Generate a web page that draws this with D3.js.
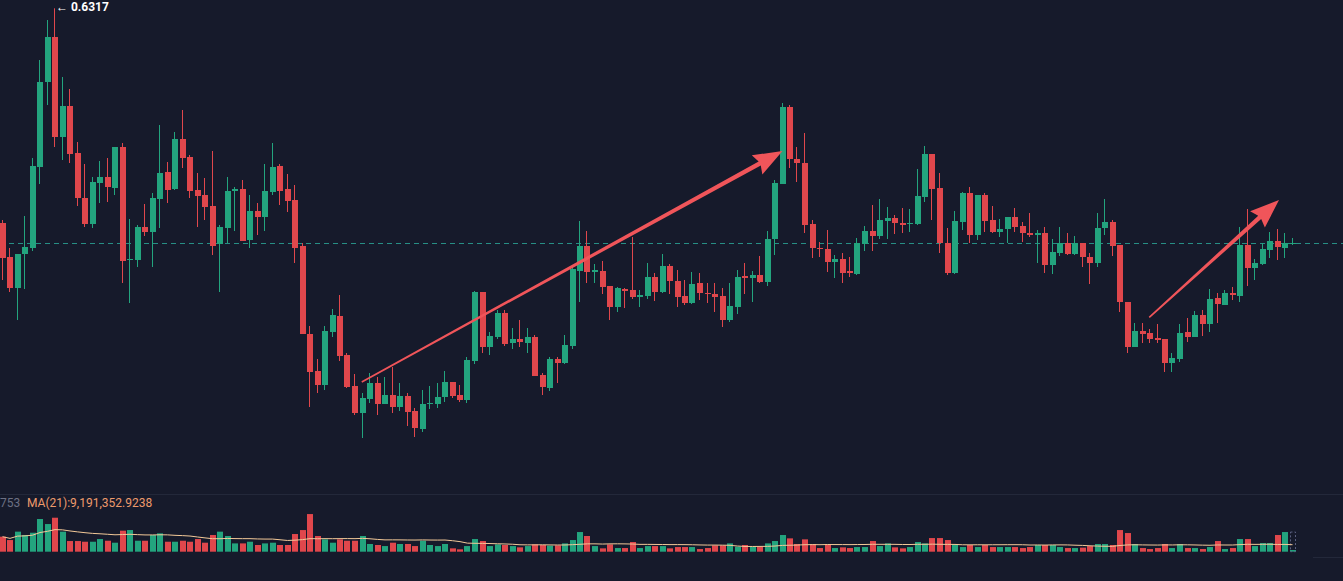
<!DOCTYPE html>
<html lang="en">
<head>
    <meta charset="UTF-8">
    <title>Candlestick chart</title>
    <script src="https://d3js.org/d3.v7.min.js"></script>
    <style>
        html, body {
            margin: 0;
            padding: 0;
            background: #161a2b;
            overflow: hidden;
        }

        svg {
            display: block;
        }

        text {
            font-family: Roboto, "Noto Sans", Arial, sans-serif;
        }
    </style>
</head>
<body>
    <svg id="chart"></svg>
    <script>
        // OHLC per candle (oldest first)
        const open = [
            .417, .383, .352, .386, .392, .473, .558, .603, .503, .534,
            .487, .442, .416, .457, .463, .452, .493, .380, .380, .413,
            .408, .441, .468, .451, .501, .483, .450, .445, .434, .396,
            .412, .449, .451, .400, .429, .423, .448, .474, .451, .440,
            .394, .306, .269, .255, .308, .324, .285, .254, .227, .241,
            .257, .236, .245, .233, .244, .229, .211, .236, .236, .243,
            .258, .245, .240, .279, .348, .293, .303, .327, .297, .301,
            .297, .303, .265, .252, .281, .277, .294, .369, .394, .368,
            .369, .354, .333, .351, .350, .343, .344, .363, .348, .374,
            .359, .344, .337, .357, .347, .346, .344, .320, .333, .364,
            .362, .365, .358, .401, .456, .533, .481, .477, .416, .392,
            .391, .378, .381, .369, .366, .396, .409, .404, .419, .422,
            .417, .416, .416, .443, .486, .452, .397, .367, .418, .447,
            .405, .445, .420, .408, .411, .423, .414, .407, .405, .407,
            .375, .387, .397, .386, .397, .383, .377, .412, .418, .395,
            .338, .293, .309, .307, .302, .301, .277, .281, .308, .303,
            .325, .316, .342, .335, .347, .344, .395, .372, .376, .390,
            .399, .392, .396
        ];
        const high = [
            .420, .392, .386, .424, .482, .580, .620, .6317, .563, .551,
            .498, .476, .463, .479, .482, .493, .497, .421, .415, .436,
            .447, .515, .478, .508, .530, .485, .467, .462, .489, .415,
            .463, .453, .460, .445, .437, .476, .497, .476, .466, .455,
            .397, .314, .281, .314, .331, .345, .287, .266, .247, .267,
            .263, .263, .273, .257, .247, .232, .250, .254, .257, .269,
            .258, .255, .283, .349, .348, .308, .330, .330, .312, .320,
            .312, .305, .267, .283, .283, .305, .375, .419, .409, .376,
            .379, .354, .353, .352, .403, .350, .377, .367, .386, .376,
            .370, .360, .368, .367, .357, .357, .352, .357, .370, .377,
            .369, .384, .409, .460, .537, .535, .493, .507, .420, .398,
            .410, .385, .387, .383, .402, .414, .435, .441, .433, .425,
            .432, .431, .471, .494, .486, .467, .412, .429, .448, .453,
            .445, .447, .434, .421, .423, .432, .418, .427, .410, .413,
            .401, .413, .407, .404, .397, .387, .427, .441, .420, .395,
            .338, .317, .317, .311, .316, .301, .287, .316, .322, .329,
            .330, .351, .347, .350, .353, .413, .431, .381, .397, .408,
            .411, .407, .402
        ];
        const low = [
            .360, .348, .320, .351, .389, .456, .535, .493, .480, .477,
            .434, .413, .412, .437, .438, .445, .357, .337, .373, .404,
            .373, .412, .437, .450, .472, .442, .413, .420, .385, .348,
            .397, .409, .399, .392, .405, .409, .445, .435, .428, .377,
            .306, .233, .247, .250, .303, .279, .252, .225, .202, .237,
            .225, .236, .227, .229, .214, .203, .208, .231, .232, .238,
            .242, .238, .237, .276, .287, .285, .301, .294, .291, .293,
            .287, .264, .245, .249, .257, .276, .291, .338, .357, .357,
            .346, .320, .328, .332, .341, .333, .341, .339, .347, .346,
            .333, .335, .336, .340, .337, .328, .313, .318, .326, .346,
            .338, .357, .354, .385, .456, .472, .458, .407, .382, .383,
            .368, .362, .357, .363, .365, .389, .389, .401, .401, .406,
            .407, .408, .415, .438, .420, .387, .365, .366, .410, .397,
            .400, .408, .407, .403, .397, .408, .398, .403, .377, .367,
            .366, .384, .385, .385, .373, .356, .373, .405, .384, .328,
            .287, .293, .297, .297, .297, .268, .268, .278, .298, .303,
            .304, .308, .317, .335, .340, .338, .354, .360, .375, .382,
            .380, .382, .395
        ];
        const close = [
            .382, .352, .386, .393, .474, .558, .603, .503, .534, .486,
            .442, .416, .458, .463, .453, .493, .379, .381, .413, .408,
            .442, .467, .450, .501, .482, .449, .444, .433, .394, .413,
            .449, .451, .399, .429, .423, .449, .473, .449, .439, .392,
            .306, .268, .255, .309, .325, .284, .253, .227, .242, .257,
            .236, .245, .233, .244, .228, .212, .236, .237, .243, .258,
            .244, .240, .280, .348, .293, .304, .327, .296, .301, .298,
            .303, .264, .253, .281, .277, .295, .371, .394, .368, .370,
            .353, .333, .352, .349, .343, .345, .363, .348, .374, .359,
            .343, .337, .356, .347, .346, .343, .320, .334, .363, .362,
            .365, .358, .401, .457, .533, .481, .477, .415, .392, .391,
            .378, .381, .367, .367, .397, .409, .404, .420, .422, .417,
            .415, .417, .444, .486, .451, .397, .367, .419, .447, .405,
            .445, .419, .408, .411, .423, .413, .407, .405, .407, .375,
            .388, .397, .386, .397, .383, .377, .412, .418, .394, .338,
            .293, .309, .306, .301, .300, .277, .282, .307, .303, .325,
            .316, .341, .336, .347, .345, .395, .372, .377, .391, .399,
            .393, .397, .397
        ];
        // volume, millions
        const volume = [
            19.7, 15.3, 26.3, 21.9, 24.9, 42.9, 36.3, 44.6, 26.3, 14.0,
            14.0, 13.1, 13.1, 16.6, 14.4, 11.8, 27.6, 28.4, 14.4, 14.4,
            21.9, 24.1, 13.1, 13.1, 14.4, 13.1, 16.6, 11.8, 21.9, 26.3,
            20.6, 10.9, 10.9, 13.1, 8.8, 10.9, 11.8, 8.8, 8.8, 23.2,
            28.4, 49.4, 20.6, 16.2, 11.8, 16.2, 14.4, 14.4, 20.6, 10.1,
            8.8, 7.4, 11.8, 10.1, 10.1, 7.4, 14.4, 8.8, 7.4, 10.1,
            4.4, 3.1, 7.4, 16.6, 14.0, 7.4, 9.6, 8.8, 7.4, 5.7,
            7.4, 9.6, 8.8, 7.9, 8.3, 10.9, 15.3, 25.8, 20.6, 7.4,
            4.4, 9.6, 4.8, 4.8, 12.7, 4.8, 7.4, 7.4, 7.4, 4.4,
            6.1, 6.1, 6.1, 3.5, 4.8, 8.3, 8.3, 10.9, 6.6, 8.8,
            6.6, 6.6, 10.9, 14.0, 21.9, 17.5, 10.1, 16.2, 10.1, 4.8,
            9.6, 4.8, 5.7, 4.8, 6.1, 6.1, 14.0, 7.4, 10.9, 5.7,
            4.4, 6.1, 12.7, 10.9, 17.9, 17.9, 15.3, 9.6, 6.1, 8.8,
            6.1, 8.8, 6.1, 6.1, 6.1, 6.1, 4.8, 6.1, 8.8, 8.8,
            8.8, 6.1, 4.8, 4.8, 5.3, 7.4, 10.1, 10.1, 8.8, 28.4,
            24.5, 10.1, 4.8, 3.5, 4.8, 10.1, 4.8, 10.1, 4.8, 4.8,
            3.5, 6.1, 14.0, 3.5, 4.8, 16.6, 16.6, 7.4, 11.4, 11.4,
            21.9, 25.8, 2.2
        ];
        const projectedVolume = 25.8;
        const maPeriod = 21;
        const maLabel = "MA(21):9,191,352.9238";
        const volLabel = "753";
        // drawn trend arrows: [candle index, price]
        const arrows = [
            { from: [47.9, 0.258], to: [104.0, 0.489] },
            { from: [152.9, 0.3227], to: [170.2, 0.440] }
        ];

        const W = 1343, H = 581;
        const n = close.length;
        const upColor = "#23a47e";
        const downColor = "#e0474c";

        const svg = d3.select("#chart")
            .attr("width", W)
            .attr("height", H);

        svg.append("rect")
            .attr("width", W)
            .attr("height", H)
            .attr("fill", "#161a2b");

        const x = d3.scaleLinear()
            .domain([0, n - 1])
            .range([2.5, 2.5 + (n - 1) * 7.5]);

        const y = d3.scaleLinear()
            .domain([0.64, 0.20])
            .range([0, 440]);

        const yv = d3.scaleLinear()
            .domain([0, 50])
            .range([551.7, 513.6]);

        const idx = d3.range(n);
        const color = i => close[i] >= open[i] ? upColor : downColor;
        const left = i => Math.round(x(i) - 3);

        // current price line
        const lastY = Math.round(y(close[n - 1])) + 0.5;
        svg.append("line")
            .attr("x1", 0)
            .attr("x2", W)
            .attr("y1", lastY)
            .attr("y2", lastY)
            .attr("stroke", "#2aa595")
            .attr("stroke-opacity", 0.85)
            .attr("stroke-dasharray", "5,4");

        // candles
        const candles = svg.append("g");
        candles.selectAll(".wick")
            .data(idx)
            .join("line")
            .attr("class", "wick")
            .attr("x1", i => left(i) + 2.5)
            .attr("x2", i => left(i) + 2.5)
            .attr("y1", i => y(high[i]))
            .attr("y2", i => y(low[i]))
            .attr("stroke", color)
            .attr("stroke-width", 1);

        candles.selectAll(".body")
            .data(idx)
            .join("rect")
            .attr("class", "body")
            .attr("x", left)
            .attr("width", 6)
            .attr("y", i => Math.round(y(Math.max(open[i], close[i]))))
            .attr("height", i => Math.max(1, Math.round(y(Math.min(open[i], close[i]))) - Math.round(y(Math.max(open[i], close[i])))))
            .attr("fill", color);

        // max label
        const iMax = d3.maxIndex(high);
        svg.append("text")
            .attr("x", left(iMax) + 4)
            .attr("y", y(high[iMax]) + 2.5)
            .attr("fill", "#ffffff")
            .attr("font-size", 12)
            .attr("font-weight", 700)
            .text("\u2190 " + high[iMax].toFixed(4));

        // arrows
        arrows.forEach(a => {
            const x0 = x(a.from[0]), y0 = y(a.from[1]);
            const x1 = x(a.to[0]), y1 = y(a.to[1]);
            const dx = x1 - x0, dy = y1 - y0, L = Math.hypot(dx, dy);
            const ux = dx / L, uy = dy / L, px = -uy, py = ux;
            const hl = 26, hw = 11, w0 = 0.8, w1 = 2.2;
            const bx = x1 - ux * hl, by = y1 - uy * hl;
            const pts = [
                [x0 + px * w0, y0 + py * w0],
                [bx + px * w1, by + py * w1],
                [bx + px * hw - ux * 3, by + py * hw - uy * 3],
                [x1, y1],
                [bx - px * hw - ux * 3, by - py * hw - uy * 3],
                [bx - px * w1, by - py * w1],
                [x0 - px * w0, y0 - py * w0]
            ];
            svg.append("polygon")
                .attr("points", pts.map(p => p.join(",")).join(" "))
                .attr("fill", "#f0555a");
        });

        // volume pane
        svg.append("line")
            .attr("x1", 0)
            .attr("x2", W)
            .attr("y1", 494.5)
            .attr("y2", 494.5)
            .attr("stroke", "#23283a");

        svg.append("line")
            .attr("x1", 1313)
            .attr("x2", W)
            .attr("y1", 557.5)
            .attr("y2", 557.5)
            .attr("stroke", "#23283a");

        svg.selectAll(".vol")
            .data(idx)
            .join("rect")
            .attr("class", "vol")
            .attr("x", left)
            .attr("width", 6)
            .attr("y", i => yv(volume[i]))
            .attr("height", i => yv(0) - yv(volume[i]))
            .attr("fill", color);

        svg.append("rect")
            .attr("x", left(n - 1) + 0.5)
            .attr("width", 5)
            .attr("y", yv(projectedVolume))
            .attr("height", yv(0) - yv(projectedVolume))
            .attr("fill", "none")
            .attr("stroke", "#5a6080")
            .attr("stroke-dasharray", "2,2");

        const ma = idx.map(i => d3.mean(volume.slice(Math.max(0, i - maPeriod + 1), i + 1)));
        svg.append("path")
            .datum(idx)
            .attr("fill", "none")
            .attr("stroke", "#f3c998")
            .attr("stroke-width", 1)
            .attr("d", d3.line().x(i => x(i)).y(i => yv(ma[i])));

        svg.append("text")
            .attr("x", 0)
            .attr("y", 507)
            .attr("fill", "#6c7083")
            .attr("font-size", 12)
            .text(volLabel);

        svg.append("text")
            .attr("x", 27)
            .attr("y", 507)
            .attr("fill", "#ee9a6c")
            .attr("font-size", 12)
            .text(maLabel);
    </script>
</body>
</html>
